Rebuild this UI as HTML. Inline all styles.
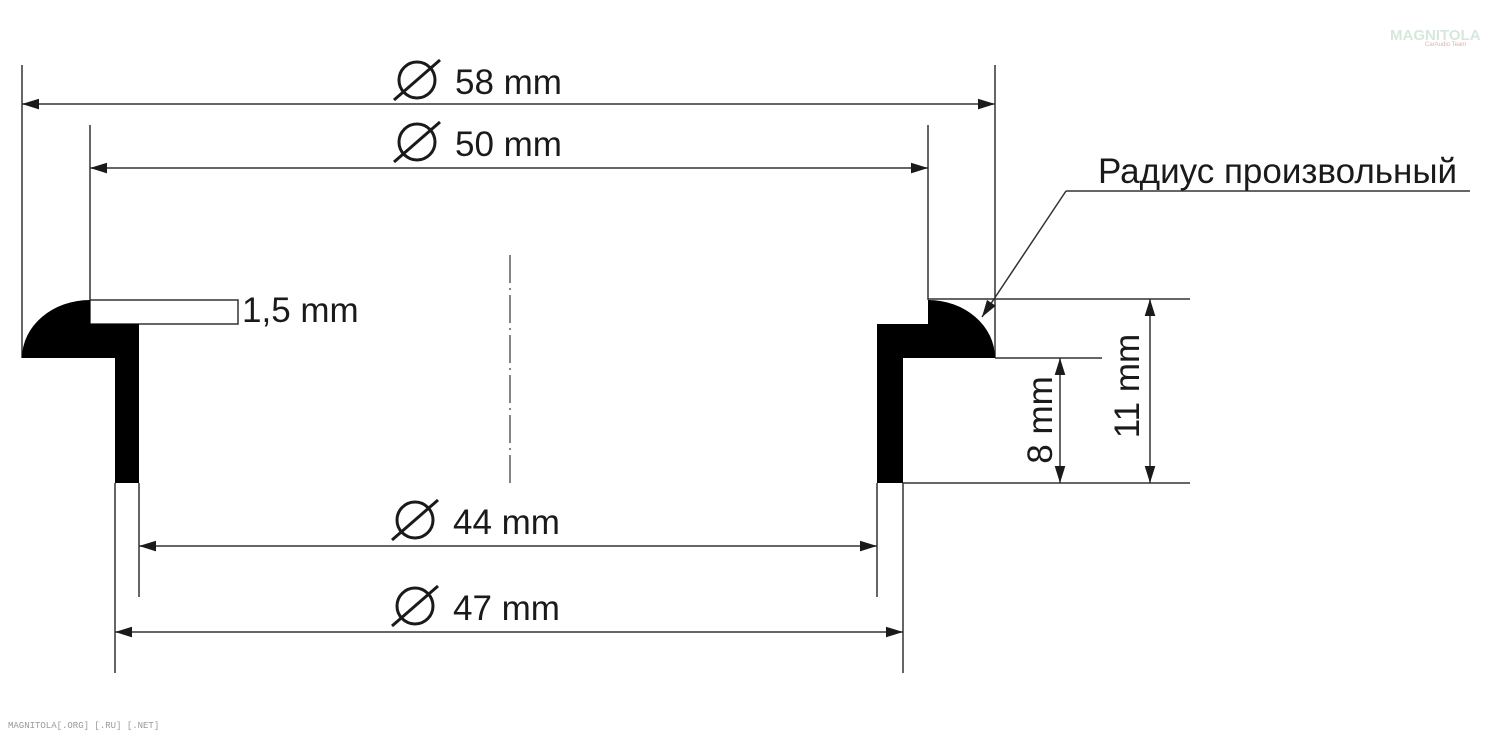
<!DOCTYPE html>
<html><head><meta charset="utf-8"><style>
html,body{margin:0;padding:0;background:#fff;width:1490px;height:735px;overflow:hidden}
svg{display:block}
text{font-family:"Liberation Sans",Arial,sans-serif;fill:#1a1a1a}
</style></head><body>
<svg width="1490" height="735" viewBox="0 0 1490 735" xmlns="http://www.w3.org/2000/svg">
<defs>
<marker id="a" viewBox="0 0 16 10" refX="16" refY="5" markerWidth="17" markerHeight="11" markerUnits="userSpaceOnUse" orient="auto-start-reverse"><path d="M0,0 L16,5 L0,10 Z" fill="#1a1a1a"/></marker>
</defs>
<g stroke="#333" stroke-width="1.5" fill="none">
<line x1="22" y1="65" x2="22" y2="358"/>
<line x1="995" y1="65" x2="995" y2="358"/>
<line x1="90" y1="125" x2="90" y2="300"/>
<line x1="928" y1="125" x2="928" y2="300"/>
<line x1="139" y1="483" x2="139" y2="597"/>
<line x1="877" y1="483" x2="877" y2="597"/>
<line x1="115" y1="483" x2="115" y2="673"/>
<line x1="903" y1="483" x2="903" y2="673"/>
<rect x="90" y="300" width="148" height="24"/>
<line x1="928" y1="299" x2="1190" y2="299"/>
<line x1="995" y1="358" x2="1102" y2="358"/>
<line x1="903" y1="483" x2="1190" y2="483"/>
<line x1="1066" y1="191" x2="1470" y2="191"/>
<line x1="1066" y1="191" x2="982" y2="317" marker-end="url(#a)"/>
<line x1="22" y1="104" x2="995" y2="104" marker-start="url(#a)" marker-end="url(#a)"/>
<line x1="90" y1="168" x2="928" y2="168" marker-start="url(#a)" marker-end="url(#a)"/>
<line x1="139" y1="546" x2="877" y2="546" marker-start="url(#a)" marker-end="url(#a)"/>
<line x1="115" y1="632" x2="903" y2="632" marker-start="url(#a)" marker-end="url(#a)"/>
<line x1="1060" y1="358" x2="1060" y2="483" marker-start="url(#a)" marker-end="url(#a)"/>
<line x1="1150" y1="299" x2="1150" y2="483" marker-start="url(#a)" marker-end="url(#a)"/>
<line x1="510" y1="255" x2="510" y2="485" stroke-dasharray="28,5,2,5" stroke-width="1.2"/>
</g>
<path d="M22,358 A68,58 0 0 1 90,300 L90,324 L139,324 L139,483 L115,483 L115,358 Z" fill="#000"/>
<path d="M877,324 L928,324 L928,300 A67,58 0 0 1 995,358 L903,358 L903,483 L877,483 Z" fill="#000"/>
<g stroke="#1a1a1a" stroke-width="3" fill="none">
<circle cx="417" cy="80" r="18"/><line x1="394" y1="100" x2="440" y2="60"/>
<circle cx="417" cy="142" r="18"/><line x1="394" y1="162" x2="440" y2="122"/>
<circle cx="415" cy="520" r="18"/><line x1="392" y1="540" x2="438" y2="500"/>
<circle cx="415" cy="606" r="18"/><line x1="392" y1="626" x2="438" y2="586"/>
</g>
<g font-size="35">
<text x="455" y="94">58 mm</text>
<text x="455" y="156">50 mm</text>
<text x="453" y="534">44 mm</text>
<text x="453" y="620">47 mm</text>
<text x="242" y="322">1,5 mm</text>
<text x="1098" y="183">Радиус произвольный</text>
<text transform="translate(1052,420) rotate(-90)" text-anchor="middle">8 mm</text>
<text transform="translate(1139,386) rotate(-90)" text-anchor="middle">11 mm</text>
</g>
<text x="1390" y="40" font-size="15" style="fill:#d6e8dc" font-weight="bold">MAGNITOLA</text>
<text x="1425" y="46" font-size="6" style="fill:#e0b0b0">CarAudio Team</text>
<text x="8" y="728" font-size="9" style="fill:#999;font-family:'Liberation Mono',monospace">MAGNITOLA[.ORG] [.RU] [.NET]</text>
</svg>
</body></html>
